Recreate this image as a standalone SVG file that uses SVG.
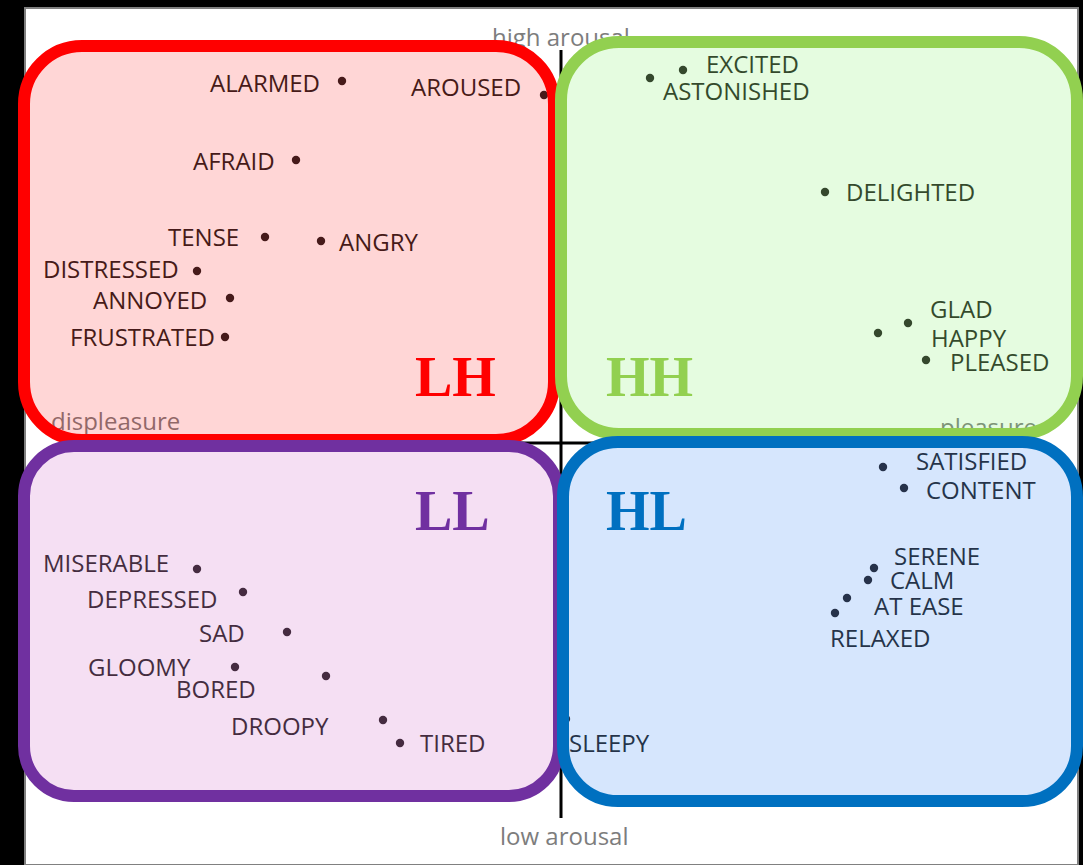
<svg xmlns="http://www.w3.org/2000/svg" width="1083" height="865" viewBox="0 0 1083 865">
  <style>
    .w { font-family: "Open Sans", "Liberation Sans", sans-serif; font-size: 24px; fill: #231f20; }
    .ax { font-family: "Open Sans", "Liberation Sans", sans-serif; font-size: 24px; fill: #7d7d7d; }
    .q { font-family: "Liberation Serif", "Times New Roman", serif; font-size: 56px; font-weight: bold; }
    .dot { fill: #231f20; }
    .box { stroke-width: 12; }
  </style>
  <defs>
    <circle id="pt" r="4.2" class="dot"/>
  </defs>

  <!-- page -->
  <rect x="0" y="0" width="1083" height="865" fill="#000"/>
  <rect x="25" y="8" width="1053" height="857" fill="#fff" stroke="#808080" stroke-width="2"/>

  <!-- axes -->
  <g id="axes" stroke="#000" stroke-width="3">
    <line x1="561" y1="50" x2="561" y2="818"/>
    <line x1="470" y1="443" x2="650" y2="443"/>
  </g>
  <text class="ax" x="492" y="46">high arousal</text>
  <text class="ax" x="500" y="845">low arousal</text>
  <text class="ax" x="51" y="430">displeasure</text>
  <text class="ax" x="940" y="436">pleasure</text>

  <!-- affect words -->
  <g id="words">
    <text class="w" x="210" y="92">ALARMED</text><use href="#pt" x="342" y="81"/>
    <text class="w" x="411" y="96">AROUSED</text><use href="#pt" x="544" y="95"/>
    <text class="w" x="193" y="170">AFRAID</text><use href="#pt" x="296" y="160"/>
    <text class="w" x="168" y="246">TENSE</text><use href="#pt" x="265" y="237"/>
    <text class="w" x="339" y="251">ANGRY</text><use href="#pt" x="321" y="241"/>
    <text class="w" x="43" y="278">DISTRESSED</text><use href="#pt" x="197" y="271"/>
    <text class="w" x="93" y="309">ANNOYED</text><use href="#pt" x="230" y="298"/>
    <text class="w" x="70" y="346">FRUSTRATED</text><use href="#pt" x="225" y="337"/>

    <text class="w" x="706" y="73">EXCITED</text><use href="#pt" x="683" y="70"/>
    <text class="w" x="663" y="100">ASTONISHED</text><use href="#pt" x="650" y="78"/>
    <text class="w" x="846" y="201">DELIGHTED</text><use href="#pt" x="825" y="192"/>
    <text class="w" x="930" y="318">GLAD</text><use href="#pt" x="908" y="323"/>
    <text class="w" x="931" y="347">HAPPY</text><use href="#pt" x="878" y="333"/>
    <text class="w" x="950" y="371">PLEASED</text><use href="#pt" x="926" y="360"/>

    <text class="w" x="916" y="470">SATISFIED</text><use href="#pt" x="883" y="467"/>
    <text class="w" x="926" y="499">CONTENT</text><use href="#pt" x="904" y="488"/>
    <text class="w" x="894" y="565">SERENE</text><use href="#pt" x="874" y="568"/>
    <text class="w" x="890" y="589">CALM</text><use href="#pt" x="868" y="580"/>
    <text class="w" x="874" y="615">AT EASE</text><use href="#pt" x="847" y="598"/>
    <text class="w" x="830" y="647">RELAXED</text><use href="#pt" x="835" y="613"/>
    <text class="w" x="569" y="752">SLEEPY</text><use href="#pt" x="566" y="719"/>

    <text class="w" x="43" y="572">MISERABLE</text><use href="#pt" x="197" y="569"/>
    <text class="w" x="87" y="608">DEPRESSED</text><use href="#pt" x="243" y="592"/>
    <text class="w" x="199" y="642">SAD</text><use href="#pt" x="287" y="632"/>
    <text class="w" x="88" y="676">GLOOMY</text><use href="#pt" x="235" y="667"/>
    <text class="w" x="176" y="698">BORED</text><use href="#pt" x="326" y="676"/>
    <text class="w" x="231" y="735">DROOPY</text><use href="#pt" x="383" y="720"/>
    <text class="w" x="420" y="752">TIRED</text><use href="#pt" x="400" y="743"/>
  </g>

  <!-- quadrant boxes -->
  <g id="LH">
    <rect class="box" x="24" y="46" width="530" height="394" rx="58" fill="#ff0000" fill-opacity="0.16" stroke="#ff0000"/>
    <text class="q" x="415" y="396" fill="#ff0000">LH</text>
  </g>
  <g id="HH">
    <rect class="box" x="561" y="42" width="516" height="392" rx="58" fill="#7df064" fill-opacity="0.2" stroke="#92d050"/>
    <text class="q" x="606" y="396" fill="#92d050">HH</text>
  </g>
  <g id="LL">
    <rect class="box" x="24" y="446" width="535" height="350" rx="50" fill="#cd5fc3" fill-opacity="0.2" stroke="#7030a0"/>
    <text class="q" x="415" y="530" fill="#7030a0">LL</text>
  </g>
  <g id="HL">
    <rect class="box" x="563" y="442" width="514" height="359" rx="55" fill="#3282f5" fill-opacity="0.2" stroke="#0070c0"/>
    <text class="q" x="606" y="530" fill="#0070c0">HL</text>
  </g>
</svg>
